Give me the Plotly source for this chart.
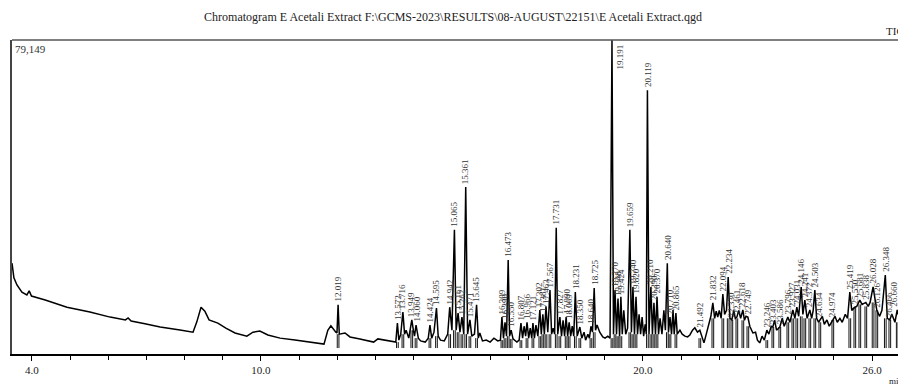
import numpy as np
import plotly.graph_objects as go

# ---------------- data ----------------
title_text = "Chromatogram E Acetali Extract F:\\GCMS-2023\\RESULTS\\08-AUGUST\\22151\\E Acetali Extract.qgd"
y_max_value = 79149
y_max_label = "79,149"

time_min = [
    3.48, 3.53, 3.61, 3.74, 3.87, 3.93, 3.99, 4.35, 4.92, 5.52, 6.05, 6.45, 6.52, 6.60, 6.96,
    7.36, 7.88, 8.22, 8.32, 8.43, 8.53, 8.64, 8.87, 9.08, 9.32, 9.63, 9.79, 9.97, 10.18, 10.50,
    10.89, 11.28, 11.55, 11.65, 11.75, 11.83, 11.96, 11.99, 12.019, 12.05, 12.20, 12.33, 12.59,
    12.85, 12.95, 13.06, 13.25, 13.43, 13.53, 13.572, 13.61, 13.66, 13.716, 13.76, 13.80, 13.87,
    13.91, 13.949, 13.99, 14.02, 14.060, 14.12, 14.18, 14.30, 14.38, 14.424, 14.47, 14.53, 14.595,
    14.64, 14.70, 14.80, 14.89, 14.942, 15.00, 15.065, 15.11, 15.161, 15.21, 15.262, 15.31, 15.361,
    15.41, 15.471, 15.52, 15.59, 15.645, 15.69, 15.73, 15.80, 15.90, 16.00, 16.10, 16.20, 16.27,
    16.309, 16.35, 16.390, 16.43, 16.473, 16.51, 16.550, 16.60, 16.70, 16.76, 16.807, 16.85, 16.89,
    16.93, 16.966, 17.01, 17.05, 17.09, 17.121, 17.16, 17.20, 17.25, 17.302, 17.34, 17.381, 17.42,
    17.463, 17.51, 17.567, 17.61, 17.65, 17.69, 17.731, 17.77, 17.827, 17.87, 17.91, 17.95, 17.990,
    18.03, 18.069, 18.11, 18.15, 18.19, 18.231, 18.28, 18.350, 18.40, 18.46, 18.50, 18.56, 18.60,
    18.640, 18.68, 18.725, 18.76, 18.80, 18.87, 18.95, 19.01, 19.08, 19.14, 19.191, 19.23, 19.270,
    19.31, 19.348, 19.39, 19.424, 19.46, 19.50, 19.55, 19.60, 19.659, 19.70, 19.740, 19.78, 19.820,
    19.86, 19.90, 19.94, 19.98, 20.02, 20.06, 20.09, 20.119, 20.16, 20.210, 20.25, 20.290, 20.33,
    20.370, 20.41, 20.45, 20.50, 20.55, 20.59, 20.640, 20.67, 20.710, 20.75, 20.79, 20.82, 20.865,
    20.90, 20.97, 21.03, 21.10, 21.17, 21.23, 21.30, 21.36, 21.43, 21.492, 21.55, 21.60, 21.66,
    21.72, 21.78, 21.832, 21.88, 21.92, 21.96, 22.00, 22.05, 22.094, 22.14, 22.19, 22.234, 22.28,
    22.330, 22.38, 22.42, 22.461, 22.51, 22.56, 22.618, 22.66, 22.70, 22.749, 22.80, 22.88, 22.95,
    23.00, 23.06, 23.12, 23.18, 23.246, 23.30, 23.36, 23.403, 23.45, 23.50, 23.586, 23.65, 23.70,
    23.796, 23.85, 23.927, 23.98, 24.031, 24.08, 24.146, 24.19, 24.241, 24.30, 24.372, 24.42, 24.46,
    24.503, 24.55, 24.60, 24.634, 24.70, 24.75, 24.82, 24.88, 24.974, 25.03, 25.09, 25.16, 25.22,
    25.30, 25.36, 25.419, 25.47, 25.550, 25.60, 25.681, 25.74, 25.838, 25.90, 25.95, 26.028, 26.08,
    26.126, 26.20, 26.26, 26.348, 26.40, 26.466, 26.52, 26.60, 26.660, 26.73, 26.80, 26.89,
]

intensity = [
    22900, 19200, 17400, 15600, 14900, 15900, 14600, 13600, 11800, 10600, 9300, 8600, 9100, 8300, 7600,
    6800, 6050, 5500, 8100, 11800, 10800, 8600, 7800, 6500, 5300, 4500, 5500, 5800, 4800, 4000,
    3500, 3000, 2500, 2500, 6000, 7100, 5500, 5300, 12400, 5000, 5300, 4300, 3800,
    3300, 3000, 3800, 3500, 3200, 3000, 7800, 3500, 5000, 10600, 5000, 6000, 4000,
    6500, 8600, 6000, 4500, 7300, 4000, 3300, 3000, 4000, 7300, 4000, 5500, 11600,
    4500, 3500, 3300, 5000, 11800, 6000, 31300, 6000, 10300, 5500, 9300, 5000, 42100,
    5000, 8600, 4500, 5000, 12400, 4000, 5300, 3300, 3500, 3000, 4000, 3300, 3500,
    9300, 4000, 8000, 4500, 23700, 4500, 6000, 3800, 3000, 3500, 7800, 4000, 7000,
    4500, 8000, 4000, 6500, 4000, 7800, 4000, 7300, 4500, 11100, 5000, 10000, 5000,
    12000, 5500, 16100, 5000, 6500, 5000, 31800, 5000, 9300, 4500, 8500, 4500, 9300,
    4500, 8000, 4500, 7000, 4500, 15600, 4500, 6800, 4000, 5500, 3500, 5000, 4000,
    7000, 5500, 16600, 6000, 7300, 5500, 4300, 4000, 4500, 4000, 79149, 5000, 16100,
    5000, 14000, 4500, 14400, 5000, 11000, 5000, 6500, 31300, 5500, 16900, 5000, 14400,
    5000, 10000, 5000, 9300, 4500, 7500, 5000, 66500, 5000, 16900, 5000, 12900, 5000,
    14400, 5000, 9000, 5000, 11000, 6000, 22900, 5500, 9300, 5000, 11100, 5000, 10300,
    5000, 6000, 5000, 4500, 4300, 4800, 6000, 6600, 5500, 6000, 4000, 2800, 5000,
    7500, 9500, 12900, 9000, 10800, 9300, 11000, 9000, 15100, 10000, 11000, 19400, 9000,
    8600, 11000, 9000, 9300, 11000, 9000, 11100, 8500, 9500, 9300, 7000, 5300, 5500,
    3500, 2800, 4500, 3500, 6000, 5000, 7000, 6800, 8500, 6000, 6800, 9000, 7000,
    9300, 8000, 11100, 9000, 11800, 9500, 16900, 10000, 13600, 9000, 11100, 9000, 11000,
    16100, 9000, 8000, 8600, 9500, 7500, 8600, 7000, 8600, 9500, 8000, 9000, 8000,
    10000, 9000, 15600, 11000, 11800, 12000, 13600, 12500, 13000, 12000, 13000, 16900, 13000,
    11000, 9500, 11000, 19900, 9000, 8600, 10000, 8000, 11100, 8600, 11000, 9000,
]

peak_labels = [
    "12.019", "13.572", "13.716", "13.949", "14.060", "14.424", "14.595", "14.942", "15.065",
    "15.161", "15.262", "15.361", "15.471", "15.645", "16.309", "16.390", "16.473", "16.550",
    "16.807", "16.966", "17.121", "17.302", "17.381", "17.463", "17.567", "17.731", "17.827",
    "17.990", "18.069", "18.231", "18.350", "18.640", "18.725", "19.191", "19.270", "19.348",
    "19.424", "19.659", "19.740", "19.820", "20.119", "20.210", "20.290", "20.370", "20.640",
    "20.710", "20.865", "21.492", "21.832", "22.094", "22.234", "22.330", "22.461", "22.618",
    "22.749", "23.246", "23.403", "23.586", "23.796", "23.927", "24.031", "24.146", "24.241",
    "24.372", "24.503", "24.634", "24.974", "25.419", "25.550", "25.681", "25.838", "26.028",
    "26.126", "26.348", "26.466", "26.660",
]

major_tick_values = [4, 10, 20, 26]
major_tick_text = ["4.0", "10.0", "20.0", "26.0"]

# ---------------- figure ----------------
t = np.array(time_min, dtype=float)
inten = np.array(intensity, dtype=float)
peak_rt = np.array([float(s) for s in peak_labels])
peak_h = np.interp(peak_rt, t, inten)

SERIF = "Liberation Serif"
X_RANGE = [3.48, 26.89]

fig = go.Figure()

# integration marks hanging below each peak's foot
mx, my = [], []
for rt in peak_rt:
    win = (t >= rt - 0.07) & (t <= rt + 0.07)
    foot = inten[win].min()
    for side in (-0.022, 0.022):
        mx += [rt + side, rt + side, None]
        my += [foot, 1500, None]
fig.add_trace(go.Scatter(x=mx, y=my, mode="lines",
                         line=dict(color="#111", width=1), hoverinfo="skip"))

fig.add_trace(go.Scatter(x=t, y=inten, mode="lines",
                         line=dict(color="black", width=1.5), name="TIC"))

annotations = []
for lab, rt, h in zip(peak_labels, peak_rt, peak_h):
    if h >= y_max_value * 0.99:
        annotations.append(dict(x=rt, y=y_max_value, xref="x", yref="y", text=lab,
                                showarrow=False, textangle=-90, xanchor="left", yanchor="top",
                                xshift=1, yshift=-2,
                                font=dict(family=SERIF, size=9, color="#333")))
    else:
        near_edge = rt > X_RANGE[1] - 0.3
        annotations.append(dict(x=rt, y=h, xref="x", yref="y", text=lab,
                                showarrow=False, textangle=-90,
                                xanchor="right" if near_edge else "center", yanchor="bottom",
                                xshift=4 if near_edge else 0, yshift=1,
                                font=dict(family=SERIF, size=9, color="#333")))

annotations += [
    dict(x=0, y=1, xref="paper", yref="paper", text=y_max_label, showarrow=False,
         xanchor="left", yanchor="top", xshift=1, yshift=-1,
         font=dict(family=SERIF, size=11, color="#333")),
    dict(x=1, y=1, xref="paper", yref="paper", text="TIC", showarrow=False,
         xanchor="right", yanchor="bottom", yshift=1,
         font=dict(family=SERIF, size=11, color="#222")),
    dict(x=1, y=0, xref="paper", yref="paper", text="min", showarrow=False,
         xanchor="right", yanchor="top", yshift=-20,
         font=dict(family=SERIF, size=9, color="#222")),
]

# the page body adds an 8 px margin, so the figure is sized to end at the window edge
fig.update_layout(
    width=898, height=377,
    margin=dict(l=4, r=0, t=32, b=31),
    paper_bgcolor="white", plot_bgcolor="white",
    showlegend=False,
    font=dict(family=SERIF, color="#222"),
    title=dict(text=title_text, x=445 / 898, xref="container", xanchor="center",
               y=1 - 9 / 377, yref="container", yanchor="middle",
               font=dict(family=SERIF, size=12, color="#222")),
    annotations=annotations,
    shapes=[dict(type="line", xref="paper", yref="paper", x0=0, x1=1, y0=1, y1=1,
                 line=dict(color="#555", width=1.5))],
)

fig.update_xaxes(
    range=X_RANGE,
    tickvals=major_tick_values, ticktext=major_tick_text,
    ticks="outside", ticklen=5, tickwidth=1, tickcolor="black",
    minor=dict(dtick=1, tick0=0, ticks="outside", ticklen=4, tickcolor="black", showgrid=False),
    showline=True, linecolor="black", linewidth=1.5,
    showgrid=False, zeroline=False,
    tickfont=dict(family=SERIF, size=11, color="#222"),
)
fig.update_yaxes(
    range=[0, y_max_value],
    showticklabels=False, ticks="",
    showline=True, linecolor="#444", linewidth=1.5,
    showgrid=False, zeroline=False,
)

fig.write_html("out.html")
